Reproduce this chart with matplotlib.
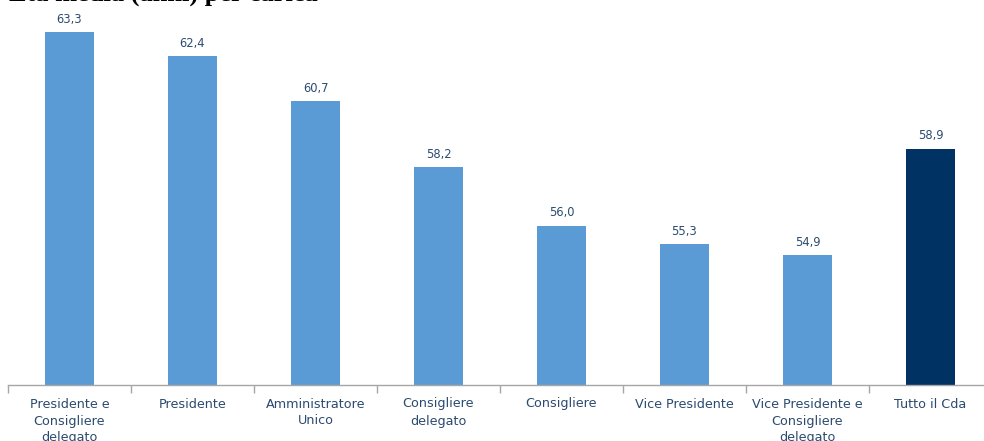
import matplotlib
matplotlib.use("Agg")
import matplotlib.pyplot as plt

categories = ["Presidente e\nConsigliere\ndelegato", "Presidente", "Amministratore\nUnico",
              "Consigliere\ndelegato", "Consigliere", "Vice Presidente",
              "Vice Presidente e\nConsigliere\ndelegato", "Tutto il Cda"]
values = [63.3, 62.4, 60.7, 58.2, 56.0, 55.3, 54.9, 58.9]
value_labels = ["63,3", "62,4", "60,7", "58,2", "56,0", "55,3", "54,9", "58,9"]
title = "Età media (anni) per carica"

light = "#5B9BD5"
dark = "#003263"
text_c = "#2B4A6F"

fig = plt.figure(figsize=(9.84, 4.41), dpi=100)
W, H = 984, 441
# axes: x from 8px to 992px, baseline at y=385px, ylim 50-65 at 26.55 px/unit
ax = fig.add_axes([8 / W, (H - 385) / H, 984 / W, 15 * 26.55 / H])

colors = [light] * 7 + [dark]
x = list(range(len(values)))
ax.bar(x, [v - 50 for v in values], bottom=50, width=0.4, color=colors, zorder=2)
for xi, v, lab in zip(x, values, value_labels):
    ax.annotate(lab, (xi, v), xytext=(0, 4.5), textcoords="offset points",
                ha="center", va="bottom", fontsize=8.3, color=text_c)

ax.set_xlim(-0.5, 7.5)
ax.set_ylim(50, 65)
ax.set_yticks([])
ax.set_xticks(x)
ax.set_xticklabels(categories, fontsize=9.2, color=text_c, linespacing=1.4)
ax.tick_params(axis="x", which="major", length=0, pad=9)
ax.set_xticks([i - 0.5 for i in range(9)], minor=True)
ax.tick_params(axis="x", which="minor", length=6, color="#A6A6A6", width=1)
for s in ["top", "right", "left"]:
    ax.spines[s].set_visible(False)
ax.spines["bottom"].set_color("#A6A6A6")
ax.spines["bottom"].set_linewidth(1)

fig.text(318 / W, 1 - 0.5 / H, title, ha="right", va="baseline",
         fontsize=19, fontweight="bold", family="Liberation Serif", color="black")

fig.savefig("out.png", dpi=100)
